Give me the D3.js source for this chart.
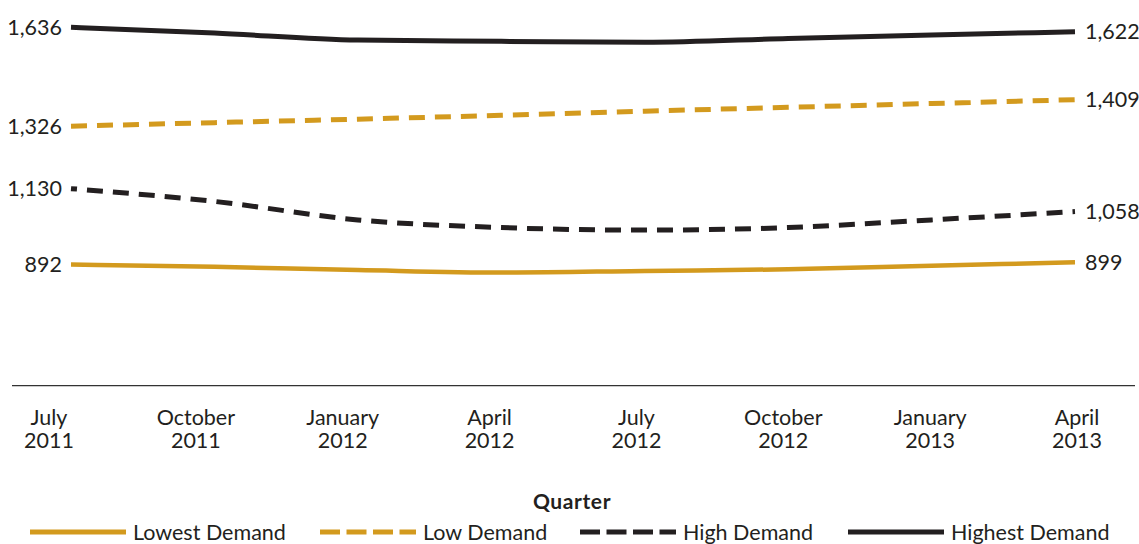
<!DOCTYPE html>
<html><head><meta charset="utf-8">
<script src="https://cdn.jsdelivr.net/npm/d3@7"></script>
<style>
body{margin:0;background:#fff;}
svg{display:block;font-family:Lato,"Open Sans",sans-serif;}
</style></head>
<body><svg id="c" width="1139" height="544"></svg>
<script>
const quarters = ["July 2011","October 2011","January 2012","April 2012","July 2012","October 2012","January 2013","April 2013"];
const lowest  = [892, 885, 875, 867, 872, 877, 888, 899];
const low     = [1326, 1337, 1348, 1360, 1373, 1385, 1397, 1409];
const high    = [1130, 1090, 1032, 1008, 1000, 1008, 1032, 1058];
const highest = [1636, 1618, 1596, 1592, 1589, 1601, 1612, 1622];
const seriesNames = ["Lowest Demand","Low Demand","High Demand","Highest Demand"];
const xTitle = "Quarter";

const gold = "#D39A1E", black = "#231F20";
const styles = [
  {color: gold, dash: null, w: 4.5, off: 0},
  {color: gold, dash: "16 10", w: 5, off: 0},
  {color: black, dash: "16 10", w: 5, off: 10},
  {color: black, dash: null, w: 5, off: 0}
];
const series = [lowest, low, high, highest];

const svg = d3.select("#c");
const x = d3.scalePoint().domain(quarters).range([71, 1075]);
const xLab = d3.scalePoint().domain(quarters).range([49, 1077]);
const y = d3.scaleLinear().domain([512, 1636]).range([385.7, 27.3]);
const FS = 21.5;

// baseline axis
svg.append("line").attr("x1", 12).attr("x2", 1135).attr("y1", y(512)).attr("y2", y(512))
  .attr("stroke", "#333").attr("stroke-width", 1.2);

// x labels (two lines each)
const lab = svg.append("g").attr("font-size", FS).attr("fill", "#231F20").attr("text-anchor", "middle");
quarters.forEach(q => {
  const parts = q.split(" ");
  lab.append("text").attr("x", xLab(q)).attr("y", 425).text(parts[0]);
  lab.append("text").attr("x", xLab(q)).attr("y", 448).text(parts[1]);
});

const line = d3.line().x((d, i) => x(quarters[i])).y(d => y(d)).curve(d3.curveMonotoneX);
const fmt = d3.format(",");
series.forEach((s, k) => {
  const st = styles[k];
  svg.append("path").attr("d", line(s)).attr("fill", "none")
    .attr("stroke", st.color).attr("stroke-width", st.w)
    .attr("stroke-dasharray", st.dash).attr("stroke-dashoffset", st.off);
  svg.append("text").attr("x", 62).attr("y", y(s[0])).attr("dy", "0.35em")
    .attr("text-anchor", "end").attr("font-size", FS).attr("fill", "#231F20").text(fmt(s[0]));
  svg.append("text").attr("x", 1085).attr("y", y(s[s.length-1])).attr("dy", "0.35em")
    .attr("text-anchor", "start").attr("font-size", FS).attr("fill", "#231F20").text(fmt(s[s.length-1]));
});

// legend
svg.append("text").attr("x", 572).attr("y", 502).attr("dy", "0.35em").attr("text-anchor", "middle")
  .attr("font-size", 21).attr("font-weight", "bold").attr("letter-spacing", 0.6).attr("fill", "#231F20").text(xTitle);
const legX = [30, 320, 580, 848];
const legDash = [null, "20 6.5", "20 6.5", null];
seriesNames.forEach((n, k) => {
  const st = styles[k];
  svg.append("line").attr("x1", legX[k]).attr("x2", legX[k] + 96).attr("y1", 532).attr("y2", 532)
    .attr("stroke", st.color).attr("stroke-width", 5).attr("stroke-dasharray", legDash[k]);
  svg.append("text").attr("x", legX[k] + 103).attr("y", 532).attr("dy", "0.35em")
    .attr("font-size", FS).attr("fill", "#231F20").text(n);
});
</script></body></html>
